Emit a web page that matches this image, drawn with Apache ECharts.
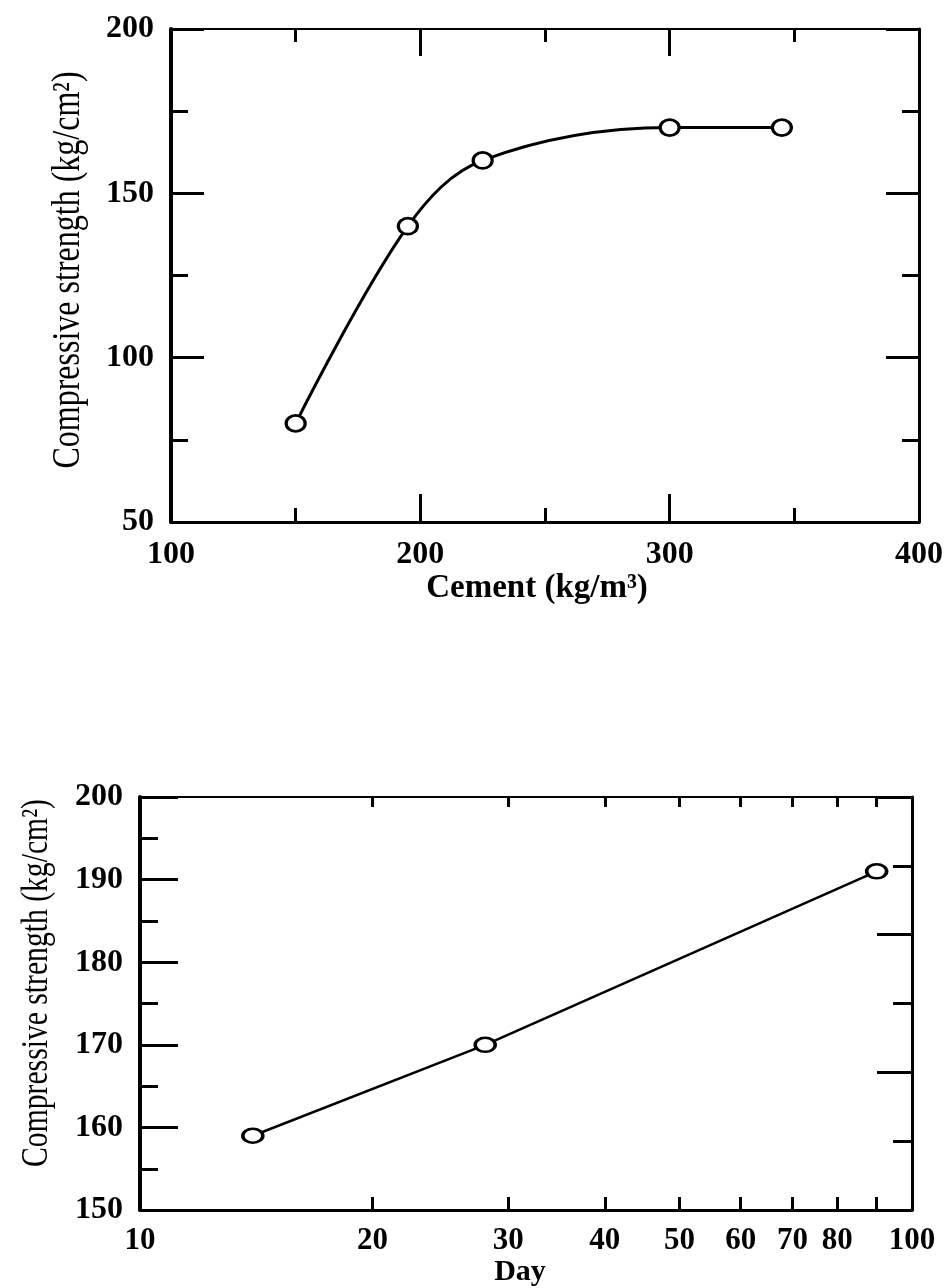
<!DOCTYPE html>
<html>
<head>
<meta charset="utf-8">
<script src="https://cdn.jsdelivr.net/npm/echarts@6/dist/echarts.min.js"></script>
<style>
    html, body { margin: 0; padding: 0; background: #fff; }
    #chart { width: 946px; height: 1288px; }
</style>
</head>
<body>
<div id="chart"></div>
<script>
// top: strength vs cement content
var cementX = [150, 195, 225, 300, 345];
var cementStrength = [80, 140, 160, 170, 170];

// bottom: strength vs age (log days)
var dayX = [14, 28, 90];
var dayStrength = [159, 170, 191];
var dayTickValues = [20, 30, 40, 50, 60, 70, 80, 90];
var dayLabelValues = [10, 20, 30, 40, 50, 60, 70, 80, 100];

var font = 'Liberation Serif';

function pairs(xs, ys) {
    var out = [];
    for (var i = 0; i < xs.length; i++) {
        out.push([xs[i], ys[i]]);
    }
    return out;
}

function line(w) {
    return { color: '#000', width: w };
}

var tickLabel = {
    color: '#000',
    fontFamily: font,
    fontWeight: 'bold',
    fontSize: 32,
    margin: 17
};

var myChart = echarts.init(document.getElementById('chart'));

var option = {
    animation: false,
    backgroundColor: '#fff',
    grid: [
        { left: 171, top: 29, width: 748, height: 493 },
        { left: 140, top: 797, width: 772, height: 418 }
    ],
    xAxis: [
        {
            gridIndex: 0,
            type: 'value',
            min: 100,
            max: 400,
            interval: 100,
            position: 'bottom',
            axisLine: { lineStyle: line(3) },
            axisTick: { inside: true, length: 28, lineStyle: line(3) },
            minorTick: { show: true, splitNumber: 2, length: 14, lineStyle: line(3) },
            splitLine: { show: false },
            axisLabel: tickLabel,
            name: 'Cement (kg/m³)',
            nameLocation: 'middle',
            nameGap: 47,
            nameTextStyle: { color: '#000', fontFamily: font, fontWeight: 'bold', fontSize: 33, padding: [0, 16, 0, 0] }
        },
        {
            gridIndex: 0,
            type: 'value',
            min: 100,
            max: 400,
            interval: 100,
            position: 'top',
            axisLine: { lineStyle: line(2) },
            axisTick: { inside: true, length: 27, lineStyle: line(3) },
            minorTick: { show: true, splitNumber: 2, length: 13, lineStyle: line(3) },
            splitLine: { show: false },
            axisLabel: { show: false }
        },
        {
            gridIndex: 1,
            type: 'log',
            logBase: 10,
            min: 10,
            max: 100,
            position: 'bottom',
            axisLine: { lineStyle: line(3) },
            axisTick: { inside: true, length: 13, customValues: dayTickValues, lineStyle: line(3) },
            splitLine: { show: false },
            axisLabel: {
                color: '#000',
                fontFamily: font,
                fontWeight: 'bold',
                fontSize: 31,
                margin: 15,
                customValues: dayLabelValues,
                formatter: function (v) { return String(Math.round(v)); }
            },
            name: 'Day',
            nameLocation: 'middle',
            nameGap: 43,
            nameTextStyle: { color: '#000', fontFamily: font, fontWeight: 'bold', fontSize: 30, padding: [0, 12, 0, 0] }
        },
        {
            gridIndex: 1,
            type: 'log',
            logBase: 10,
            min: 10,
            max: 100,
            position: 'top',
            axisLine: { lineStyle: line(2) },
            axisTick: { inside: true, length: 10, customValues: dayTickValues, lineStyle: line(3) },
            splitLine: { show: false },
            axisLabel: { show: false }
        }
    ],
    yAxis: [
        {
            gridIndex: 0,
            type: 'value',
            min: 50,
            max: 200,
            interval: 50,
            position: 'left',
            axisLine: { lineStyle: line(4) },
            axisTick: { inside: true, length: 33, lineStyle: line(3) },
            minorTick: { show: true, splitNumber: 2, length: 17, lineStyle: line(3) },
            splitLine: { show: false },
            axisLabel: tickLabel
        },
        {
            gridIndex: 0,
            type: 'value',
            min: 50,
            max: 200,
            interval: 50,
            position: 'right',
            axisLine: { lineStyle: line(3) },
            axisTick: { inside: true, length: 33, lineStyle: line(3) },
            minorTick: { show: true, splitNumber: 2, length: 17, lineStyle: line(3) },
            splitLine: { show: false },
            axisLabel: { show: false }
        },
        {
            gridIndex: 1,
            type: 'value',
            min: 150,
            max: 200,
            interval: 10,
            position: 'left',
            axisLine: { lineStyle: line(4) },
            axisTick: { inside: true, length: 38, lineStyle: line(3) },
            minorTick: { show: true, splitNumber: 2, length: 18, lineStyle: line(3) },
            splitLine: { show: false },
            axisLabel: tickLabel
        },
        {
            // right frame of the lower plot has its own 6-step tick spacing
            gridIndex: 1,
            type: 'value',
            min: 0,
            max: 6,
            interval: 2,
            position: 'right',
            axisLine: { lineStyle: line(3) },
            axisTick: { inside: true, length: 35, lineStyle: line(3) },
            minorTick: { show: true, splitNumber: 2, length: 19, lineStyle: line(3) },
            splitLine: { show: false },
            axisLabel: { show: false }
        }
    ],
    graphic: [
        {
            type: 'text',
            x: 68,
            y: 270,
            rotation: Math.PI / 2,
            scaleX: 0.8,
            style: {
                text: 'Compressive strength (kg/cm²)',
                font: '40px "Liberation Serif"',
                fill: '#000',
                align: 'center',
                verticalAlign: 'middle',
                textAlign: 'center',
                textVerticalAlign: 'middle'
            }
        },
        {
            type: 'text',
            x: 37,
            y: 983,
            rotation: Math.PI / 2,
            scaleX: 0.78,
            style: {
                text: 'Compressive strength (kg/cm²)',
                font: '38px "Liberation Serif"',
                fill: '#000',
                align: 'center',
                verticalAlign: 'middle',
                textAlign: 'center',
                textVerticalAlign: 'middle'
            }
        }
    ],
    series: [
        {
            type: 'line',
            xAxisIndex: 0,
            yAxisIndex: 0,
            smooth: 0.35,
            data: pairs(cementX, cementStrength),
            symbol: 'circle',
            symbolSize: [19, 16],
            itemStyle: { color: '#fff', borderColor: '#000', borderWidth: 3 },
            lineStyle: { color: '#000', width: 3 }
        },
        {
            type: 'line',
            xAxisIndex: 2,
            yAxisIndex: 2,
            data: pairs(dayX, dayStrength),
            symbol: 'circle',
            symbolSize: [20, 14],
            itemStyle: { color: '#fff', borderColor: '#000', borderWidth: 3 },
            lineStyle: { color: '#000', width: 2.5 }
        }
    ]
};

myChart.setOption(option, true);
</script>
</body>
</html>
